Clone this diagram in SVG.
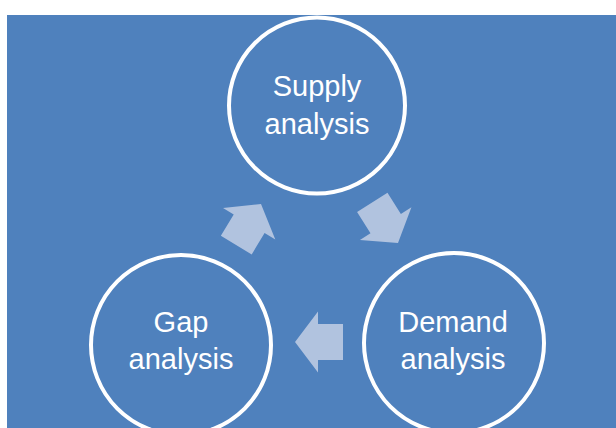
<svg xmlns="http://www.w3.org/2000/svg" width="616" height="428" viewBox="0 0 616 428">
<style>
.node circle{fill:#4F81BD;stroke:#FFFFFF;stroke-width:4}
.node text{fill:#FFFFFF;font-family:"Liberation Sans",Arial,sans-serif;font-size:29px;text-anchor:middle}
.arr{fill:#B1C3DF}
</style>
<defs>
<polygon id="arrow" points="-48,-18 -23,-18 -23,-30.5 0,0 -23,30.5 -23,18 -48,18"/>
</defs>
<rect x="0" y="0" width="616" height="428" fill="#FFFFFF"/>
<rect x="7" y="15" width="609" height="413" fill="#4F81BD"/>
<g id="connectors">
<use href="#arrow" class="arr" transform="translate(398,243) rotate(57.6)"/>
<use href="#arrow" class="arr" transform="translate(295,342) rotate(180)"/>
<use href="#arrow" class="arr" transform="translate(261,204) rotate(-59)"/>
</g>
<g id="supply" class="node">
<circle cx="317" cy="105.5" r="88"/>
<text x="317" y="96">Supply</text>
<text x="317" y="134">analysis</text>
</g>
<g id="demand" class="node">
<circle cx="454" cy="343" r="90"/>
<text x="453" y="332">Demand</text>
<text x="453" y="369">analysis</text>
</g>
<g id="gap" class="node">
<circle cx="181" cy="345" r="90"/>
<text x="181" y="332">Gap</text>
<text x="181" y="369">analysis</text>
</g>
</svg>
